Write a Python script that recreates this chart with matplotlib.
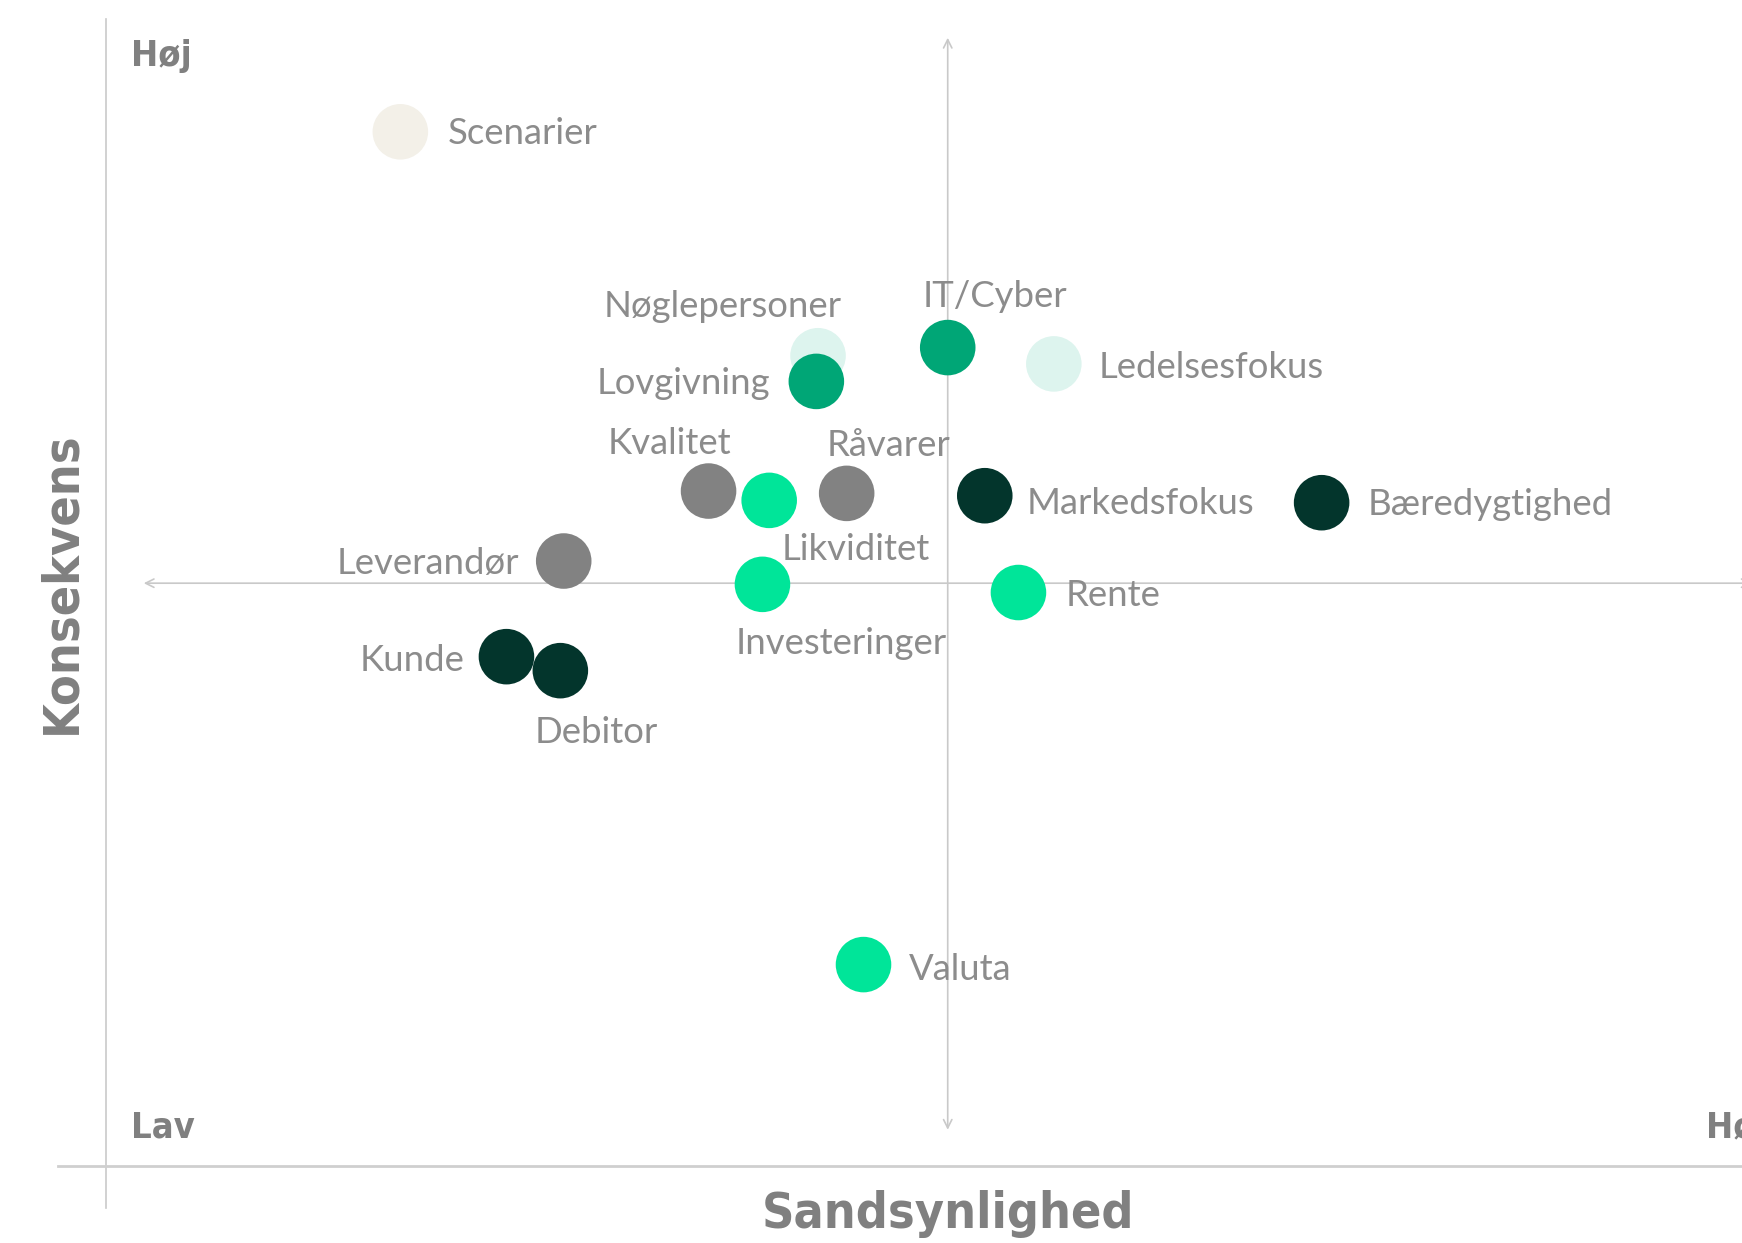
import matplotlib
matplotlib.use("Agg")
import matplotlib.pyplot as plt

# ---- data (scores) ----
names = ["Scenarier", "Nøglepersoner", "Lovgivning", "IT/Cyber", "Ledelsesfokus",
         "Kvalitet", "Likviditet", "Råvarer", "Markedsfokus", "Bæredygtighed",
         "Leverandør", "Investeringer", "Rente", "Kunde", "Debitor", "Valuta"]
sandsynlighed = [1.75, 4.23, 4.22, 5.00, 5.63,
                 3.58, 3.94, 4.40, 5.22, 7.22,
                 2.72, 3.90, 5.42, 2.38, 2.70, 4.50]
konsekvens = [8.87, 6.95, 6.73, 7.02, 6.88,
              5.79, 5.71, 5.77, 5.75, 5.69,
              5.19, 4.99, 4.92, 4.37, 4.25, 1.73]
groups = ["beige", "mint", "green", "green", "mint",
          "gray", "bright", "gray", "dark", "dark",
          "gray", "bright", "bright", "dark", "dark", "bright"]
corner_labels = ["Høj", "Lav", "Høj"]
x_title = "Sandsynlighed"
y_title = "Konsekvens"

# ---- styles ----
colors = {"beige": "#F3F0E8", "mint": "#DDF4EE", "green": "#00A676",
          "bright": "#00E599", "dark": "#03352C", "gray": "#828282"}
# label offsets in points (dx, dy) and alignment
label_pos = {
    "Scenarier": (34, 0, "left"), "Nøglepersoner": (-69, 37, "center"),
    "Lovgivning": (-33, 0, "right"), "IT/Cyber": (34, 38, "center"),
    "Ledelsesfokus": (32, -1, "left"), "Kvalitet": (-28, 36, "center"),
    "Likviditet": (62, -34, "center"), "Råvarer": (30, 36, "center"),
    "Markedsfokus": (30, -4, "left"), "Bæredygtighed": (33, 0, "left"),
    "Leverandør": (-32, 0, "right"), "Investeringer": (57, -41, "center"),
    "Rente": (34, -1, "left"), "Kunde": (-30, -1, "right"),
    "Debitor": (26, -43, "center"), "Valuta": (33, -2, "left"),
}
text_gray = "#8C8C8C"
bold_gray = "#808080"
line_gray = "#C9C9C9"

fig = plt.figure(figsize=(17.42, 12.43), dpi=100)
ax = fig.add_axes([0, 0, 1, 1])
ax.set_xlim(-0.627, 9.716)
ax.set_ylim(-0.657, 10.0)
ax.axis("off")

# frame lines
ax.plot([0, 0], [-0.36, 9.84], color=line_gray, lw=1.2, zorder=1)
ax.plot([-0.28, 10], [0, 0], color="#CFCFCF", lw=2.0, zorder=1)
# central arrows
ax.annotate("", xy=(5, 9.70), xytext=(5, 0.29),
            arrowprops=dict(arrowstyle="<->,head_length=0.6,head_width=0.3",
                            color=line_gray, lw=1.2), zorder=1)
ax.annotate("", xy=(0.21, 5), xytext=(9.79, 5),
            arrowprops=dict(arrowstyle="<->,head_length=0.6,head_width=0.3",
                            color=line_gray, lw=1.2), zorder=1)

# points
ax.scatter(sandsynlighed, konsekvens, s=1600,
           c=[colors[g] for g in groups], edgecolors="none", zorder=3)

lab_font = dict(family=["Lato", "DejaVu Sans"], weight="normal", size=26.3, color=text_gray)
for n, xv, yv in zip(names, sandsynlighed, konsekvens):
    dx, dy, ha = label_pos[n]
    ax.annotate(n, (xv, yv), xytext=(dx, dy - 1.5), textcoords="offset points",
                ha=ha, va="center", zorder=4, **lab_font)

bold_font = dict(family=["DejaVu Sans"], weight="bold", stretch="condensed",
                 color=bold_gray)
ax.text(0.15, 9.52, corner_labels[0], ha="left", va="center", size=26, **bold_font)
ax.text(0.15, 0.33, corner_labels[1], ha="left", va="center", size=26, **bold_font)
ax.text(9.50, 0.33, corner_labels[2], ha="left", va="center", size=26, **bold_font)
ax.text(-0.264, 5.0, y_title, rotation=90, ha="center", va="center", size=36, **bold_font)
ax.text(5.0, -0.41, x_title, ha="center", va="center", size=36, **bold_font)

fig.savefig("out.png", dpi=100)
